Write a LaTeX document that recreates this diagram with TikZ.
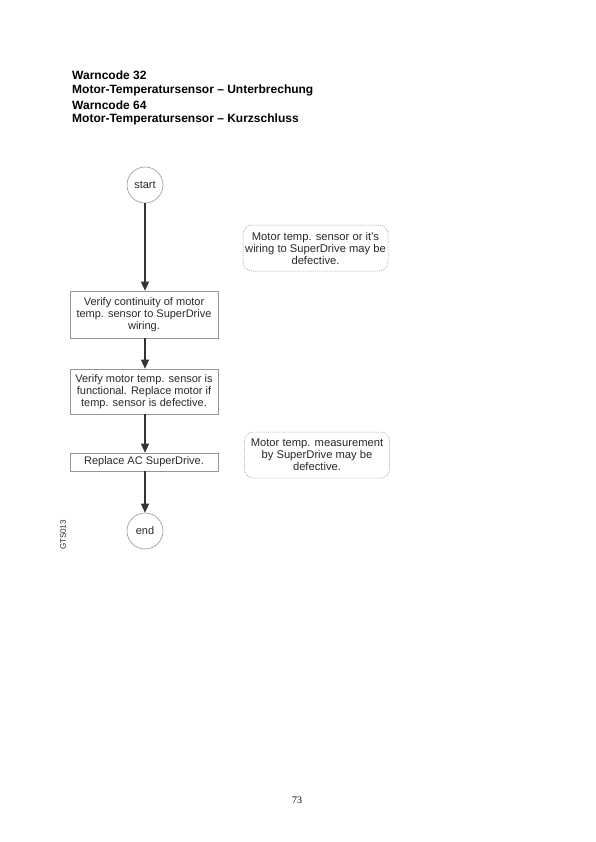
\documentclass[tikz,border=0pt]{standalone}
\usepackage{fontspec}
\setmainfont{Liberation Sans}
\newfontfamily\serifpage{Liberation Serif}
\usetikzlibrary{arrows.meta,positioning}
\definecolor{boxline}{RGB}{150,150,150}
\definecolor{txt}{RGB}{40,40,40}
\tikzset{
  x=1pt,y=1pt,
  stepbox/.style={draw=boxline,line width=0.6pt,rectangle,minimum width=148pt,align=center,font=\fontsize{11}{11.7}\selectfont,text=txt,inner sep=1pt},
  term/.style={draw=boxline,line width=0.6pt,circle,minimum size=36pt,inner sep=0pt,font=\fontsize{11}{12}\selectfont,text=txt},
  note/.style={draw=boxline,dashed,dash pattern=on 1pt off 1pt,line width=0.5pt,rounded corners=9pt,align=center,minimum width=145pt,minimum height=46pt,font=\fontsize{11.2}{12}\selectfont,text=txt,inner sep=1pt},
  flow/.style={draw=black!80,line width=1.2pt,-{Triangle[length=9pt,width=8pt]}},
  head/.style={anchor=west,font=\fontsize{12}{14}\selectfont\bfseries,inner sep=0pt}
}
\begin{document}
\begin{tikzpicture}
\useasboundingbox (0,0) rectangle (595,-842);
\node[head] (h1) at (72,-75) {Warncode 32};
\node[head] (h2) at (72,-90.5) {Motor-Temperatursensor – Unterbrechung};
\node[head] (h3) at (72,-105) {Warncode 64};
\node[head] (h4) at (72,-119.5) {Motor-Temperatursensor – Kurzschluss};

\node[term] (start) at (145,-185) {start};
\node[stepbox,minimum height=47pt] (b1) at (144,-314.5) {Verify continuity of motor\\temp. sensor to SuperDrive\\wiring.};
\node[stepbox,minimum height=45pt] (b2) at (144,-391.5) {Verify motor temp. sensor is\\functional. Replace motor if\\temp. sensor is defective.};
\node[stepbox,minimum height=18pt] (b3) at (144,-462) {Replace AC SuperDrive.};
\node[term] (end) at (145,-531) {end};

\node[note] (n1) at (315.5,-248) {Motor temp. sensor or it's\\wiring to SuperDrive may be\\defective.};
\node[note] (n2) at (317,-455) {Motor temp. measurement\\by SuperDrive may be\\defective.};

\draw[flow] (start.south) -- (start.south |- b1.north);
\draw[flow] (b1.south -| start) -- (b2.north -| start);
\draw[flow] (b2.south -| start) -- (b3.north -| start);
\draw[flow] (b3.south -| start) -- (end.north);

\node[rotate=90,font=\fontsize{8}{10}\selectfont,text=txt] (code) at (63,-535) {GTS013};
\node[font=\serifpage\fontsize{10}{12}\selectfont] (page) at (297,-800) {73};
\end{tikzpicture}
\end{document}
